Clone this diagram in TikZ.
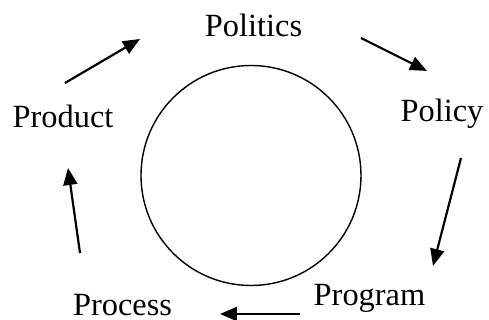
\documentclass[tikz,border=0pt]{standalone}
\usepackage{fontspec}
\setmainfont{Liberation Serif}
\usetikzlibrary{arrows.meta}

\begin{document}
\begin{tikzpicture}[x=0.5pt, y=0.5pt]

% Define styles
\tikzset{
    stage/.style={anchor=base, inner sep=0pt, font=\fontsize{16.2}{19}\selectfont},
    flow/.style={line width=1.1pt, -{Triangle[length=8.5pt, width=7pt]}},
    ring/.style={draw, circle, line width=0.7pt, minimum size=110pt, inner sep=0pt}
}

% zeige den Teil, der durch die Graphik benutzt wird
\useasboundingbox (0,0) rectangle (489,320);

% the circle in the middle
\node[ring] (CYC) at (251,144.5) {};

% the five stages
\node[stage] (POLI) at (253.5,283) {Politics};
\node[stage] (POLY) at (442,198) {Policy};
\node[stage] (PROG) at (369.5,14) {Program};
\node[stage] (PROC) at (122.5,4) {Process};
\node[stage] (PROD) at (63,192) {Product};

% ends of the arrows
\coordinate (S1) at (65,237);
\coordinate (T1) at (140,281);
\coordinate (S2) at (361,282);
\coordinate (T2) at (427,249);
\coordinate (S3) at (461,162);
\coordinate (T3) at (433,54);
\coordinate (S4) at (300,6);
\coordinate (T4) at (220,6);
\coordinate (S5) at (80,67);
\coordinate (T5) at (68,152);

% arrows round the circle
\draw[flow] (S1) -- (T1);
\draw[flow] (S2) -- (T2);
\draw[flow] (S3) -- (T3);
\draw[flow] (S4) -- (T4);
\draw[flow] (S5) -- (T5);

\end{tikzpicture}
\end{document}
